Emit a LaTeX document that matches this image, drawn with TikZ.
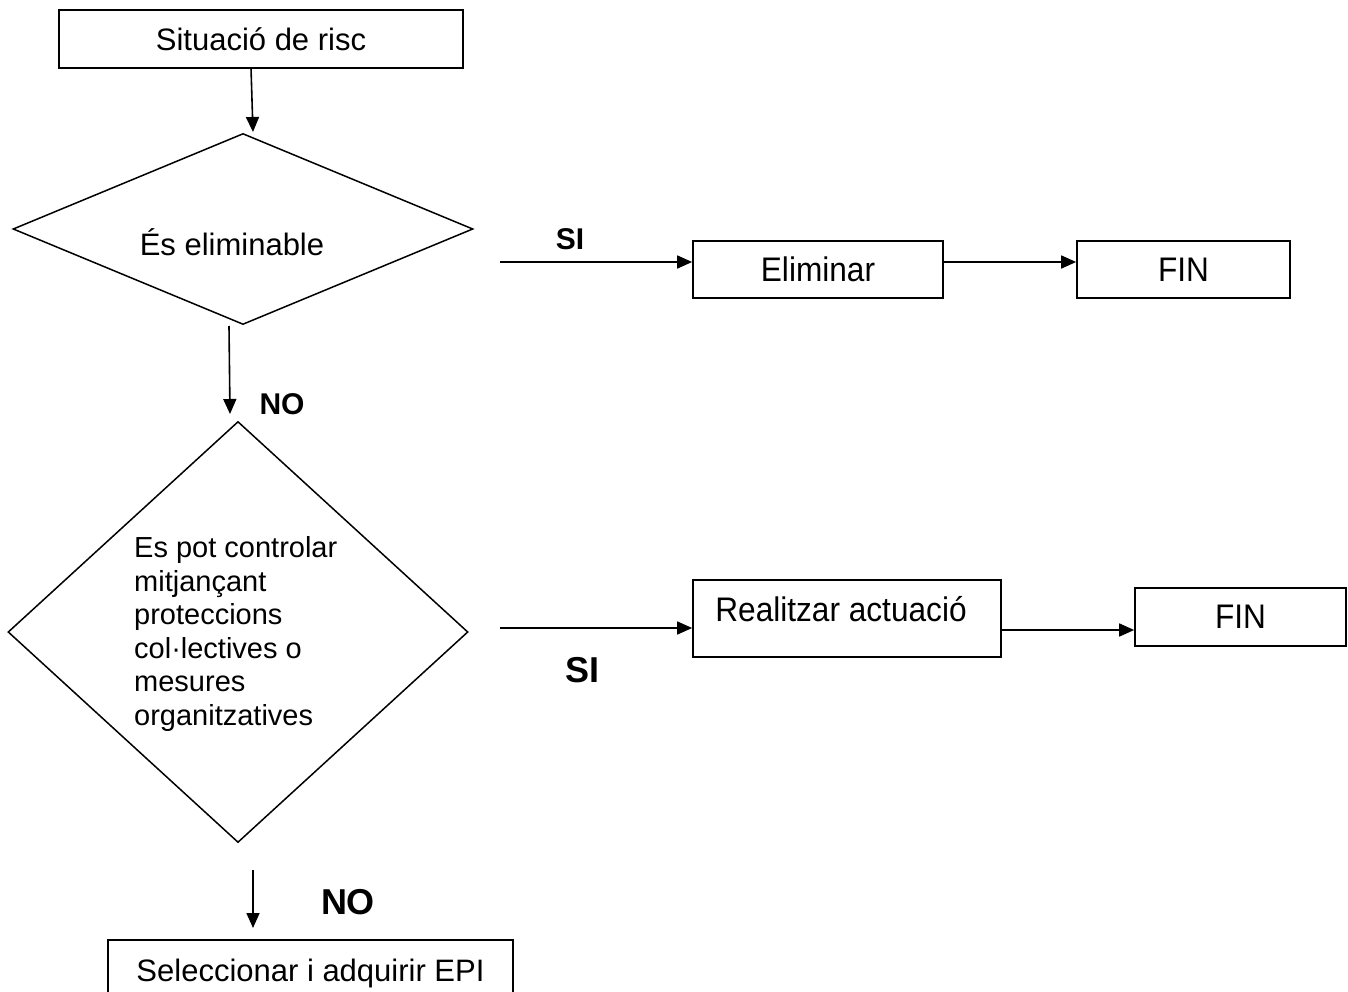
\documentclass[tikz,border=0pt]{standalone}
\usepackage{fontspec}
\setmainfont{Liberation Sans}
\usetikzlibrary{shapes.geometric,arrows.meta}
\newcommand{\tallt}[1]{\scalebox{1.02}[1.1]{#1}}
\tikzset{
  box/.style={draw,line width=1.7pt,rectangle,inner sep=0pt,font=\fontsize{31}{36}\selectfont},
  dia/.style={draw,line width=1.5pt,diamond,inner sep=0pt},
  arr/.style={line width=1.6pt,-{Triangle[length=15pt,width=13pt]}},
  lbl/.style={font=\bfseries\fontsize{30}{36}\selectfont},
  biglbl/.style={font=\bfseries\fontsize{36}{42}\selectfont}
}
\begin{document}
\begin{tikzpicture}[x=1pt,y=-1pt]
\useasboundingbox (0,0) rectangle (1348,992);
\clip (0,0) rectangle (1348,992);
% nodes
\node[box,minimum width=404pt,minimum height=58pt] (risc) at (261,39) {Situació de risc};
\node[dia,minimum width=460pt,minimum height=191pt] (d1) at (243,229) {};
\node[font=\fontsize{31}{36}\selectfont] (t1) at (232,242) {És eliminable};
\node[dia,minimum width=460pt,minimum height=421pt] (d2) at (238,632) {};
\node[anchor=west,align=left,inner sep=0pt,font=\fontsize{29}{33.6}\selectfont] (t2) at (134,634)
  {Es pot controlar\\mitjançant\\proteccions\\col·lectives o\\mesures\\organitzatives};
\node[box,minimum width=250pt,minimum height=57pt] (elim) at (818,269.5) {\tallt{Eliminar}};
\node[box,minimum width=213pt,minimum height=57pt] (fin1) at (1183.5,269.5) {\tallt{FIN}};
\node[box,minimum width=308pt,minimum height=77pt] (real) at (847,618.5) {};
\node[font=\fontsize{31}{36}\selectfont] (treal) at (841,609) {\tallt{Realitzar actuació}};
\node[box,minimum width=211pt,minimum height=58pt] (fin2) at (1240.5,617) {\tallt{FIN}};
\node[box,minimum width=405pt,minimum height=66pt] (epi) at (310.5,973) {Seleccionar i adquirir EPI};
% labels
\node[lbl] (si1) at (570,239) {SI};
\node[lbl] (no1) at (282,404) {NO};
\node[biglbl] (si2) at (582,670) {SI};
\node[biglbl] (no2) at (348,902) {NO};
% free ends
\coordinate (a1s) at (251,68);
\coordinate (a1e) at (253,132);
\coordinate (a2s) at (229,326);
\coordinate (a2e) at (230,414);
\coordinate (s1) at (500,262);
\coordinate (s2) at (500,628);
\coordinate (e1) at (943,262);
\coordinate (e2) at (1001,630);
\coordinate (a3s) at (253,870);
\coordinate (a3e) at (253,928);
% connectors
\draw[arr] (a1s) -- (a1e);
\draw[arr] (a2s) -- (a2e);
\draw[arr] (s1) -- (s1 -| elim.west);
\draw[arr] (e1) -- (e1 -| fin1.west);
\draw[arr] (s2) -- (s2 -| real.west);
\draw[arr] (e2) -- (e2 -| fin2.west);
\draw[arr] (a3s) -- (a3e);
\end{tikzpicture}
\end{document}
